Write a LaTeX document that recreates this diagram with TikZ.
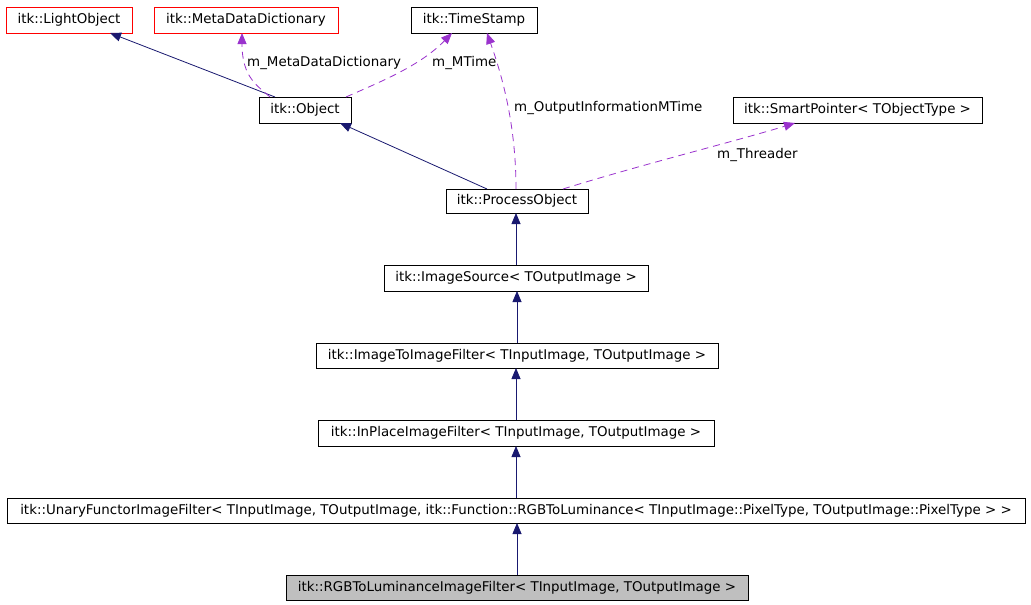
\documentclass[tikz,border=0pt]{standalone}
\usepackage{fontspec}
\setmainfont{DejaVu Sans}
\usetikzlibrary{arrows.meta}
\definecolor{navyc}{HTML}{191970}
\definecolor{purpc}{HTML}{9A32CD}
\begin{document}
\begin{tikzpicture}[x=1pt,y=-1pt,
  cls/.style={draw=black, line width=0.8pt, inner sep=0pt, outer sep=0pt, anchor=north west, minimum height=26pt, font=\fontsize{13.4}{15}\selectfont},
  redcls/.style={cls, draw=red},
  curcls/.style={cls, fill=black!25},
  inh/.style={draw=navyc, line width=0.8pt, -{Triangle[length=11pt,width=9pt,fill=navyc]}},
  use/.style={draw=purpc, line width=0.8pt, dash pattern=on 7pt off 5pt, -{Triangle[length=11pt,width=9pt,fill=purpc]}},
  lbl/.style={anchor=west, inner sep=0pt, font=\fontsize{13.4}{15}\selectfont}]
\useasboundingbox (0,0) rectangle (1031,605);
\fill[white] (0,0) rectangle (1031,605);

\node[redcls, minimum width=126pt] (lo) at (6,7) {itk::LightObject};
\node[redcls, minimum width=184pt] (mdd) at (154,7) {itk::MetaDataDictionary};
\node[cls, minimum width=126pt] (ts) at (411,7) {itk::TimeStamp};
\node[cls, minimum width=92pt] (obj) at (259,97) {itk::Object};
\node[cls, minimum width=249pt] (sp) at (733,97) {itk::SmartPointer< TObjectType >};
\node[cls, minimum width=142pt, minimum height=24pt] (po) at (446,189) {itk::ProcessObject};
\node[cls, minimum width=264pt] (is) at (384,265) {itk::ImageSource< TOutputImage >};
\node[cls, minimum width=402pt, minimum height=25pt] (i2i) at (316,343) {itk::ImageToImageFilter< TInputImage, TOutputImage >};
\node[cls, minimum width=396pt] (ipf) at (318,420) {itk::InPlaceImageFilter< TInputImage, TOutputImage >};
\node[cls, minimum width=1018pt, minimum height=25pt] (uf) at (7,498) {itk::UnaryFunctorImageFilter< TInputImage, TOutputImage, itk::Function::RGBToLuminance< TInputImage::PixelType, TOutputImage::PixelType > >};
\node[curcls, minimum width=462pt, minimum height=25pt] (rgb) at (286,575) {itk::RGBToLuminanceImageFilter< TInputImage, TOutputImage >};

% inheritance
\draw[inh] ([xshift=16pt]obj.north west) -- ([xshift=104pt]lo.south west);
\draw[inh] ([xshift=41pt]po.north west) -- ([xshift=81pt]obj.south west);
\draw[inh] (is.north) -- (is.north |- po.south);
\draw[inh] (i2i.north) -- (i2i.north |- is.south);
\draw[inh] (ipf.north) -- (ipf.north |- i2i.south);
\draw[inh] (uf.north) -- (uf.north |- ipf.south);
\draw[inh] (rgb.north) -- (rgb.north |- uf.south);

% usage
\draw[use] ([xshift=11pt]obj.north west) .. controls (258,86) and (242,78) .. ([xshift=88pt]mdd.south west);
\draw[use] ([xshift=87pt]obj.north west) .. controls (380,82) and (420,66) .. ([xshift=41pt]ts.south west);
\draw[use] ([xshift=70pt]po.north west) .. controls (516,120) and (500,70) .. ([xshift=76pt]ts.south west);
\draw[use] ([xshift=117pt]po.north west) .. controls (640,165) and (740,140) .. ([xshift=62pt]sp.south west);

\node[lbl] (l1) at (247,63) {m\_MetaDataDictionary};
\node[lbl] (l2) at (432,63) {m\_MTime};
\node[lbl] (l3) at (514,108) {m\_OutputInformationMTime};
\node[lbl] (l4) at (717,155) {m\_Threader};
\end{tikzpicture}
\end{document}
